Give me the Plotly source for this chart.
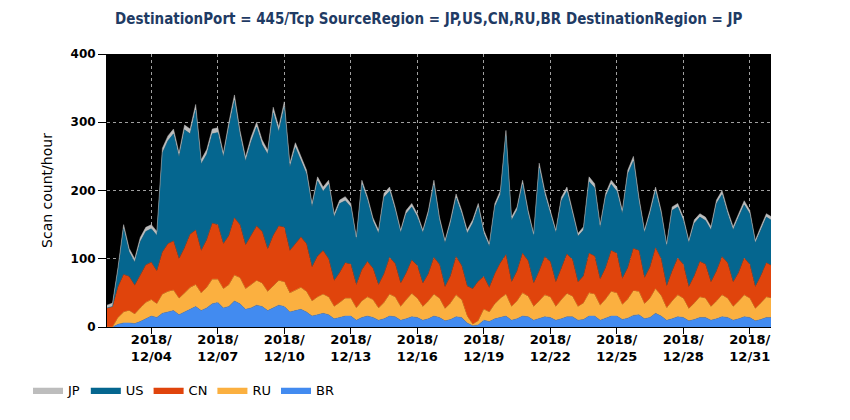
import pandas as pd
import plotly.graph_objects as go

# 6-hourly samples, 2018/12/02 00:00 -> 2019/01/01 00:00 (00, 06, 12, 18 each day)
START = "2018-12-02 00:00"

BR = [0, 0, 4, 6,   6, 5, 8, 12,   16, 14, 20, 22,   24, 18, 22, 26,   30, 24, 28, 34,
      36, 28, 30, 38,   34, 26, 28, 32,   30, 24, 28, 32,   30, 22, 24, 26,   22, 16, 18, 20,
      18, 12, 14, 16,   16, 10, 14, 16,   14, 10, 12, 16,   15, 10, 12, 15,   14, 10, 12, 16,
      14, 9, 11, 15,   14, 6, 2, 3,   10, 8, 12, 14,   16, 10, 12, 16,   15, 10, 12, 15,
      14, 10, 12, 15,   15, 10, 11, 16,   16, 10, 13, 16,   16, 11, 13, 17,   18, 12, 14, 20,
      16, 10, 12, 15,   14, 9, 11, 14,   14, 10, 12, 15,   14, 10, 12, 15,   14, 9, 11, 14,
      14]
RU = [0, 0, 10, 16,   18, 14, 20, 24,   24, 20, 28, 30,   30, 24, 28, 32,   32, 26, 30, 36,
      34, 28, 32, 38,   38, 30, 34, 36,   34, 28, 32, 36,   36, 28, 30, 32,   30, 22, 26, 28,
      26, 18, 22, 26,   26, 18, 24, 28,   26, 18, 24, 32,   29, 20, 28, 34,   28, 20, 26, 32,
      28, 18, 24, 32,   26, 10, 2, 6,   16, 14, 22, 28,   32, 20, 26, 34,   30, 20, 26, 32,
      30, 20, 28, 34,   30, 20, 24, 34,   32, 22, 28, 36,   34, 22, 28, 36,   34, 22, 28, 36,
      30, 18, 26, 32,   28, 18, 24, 30,   28, 20, 26, 32,   28, 20, 26, 32,   28, 18, 24, 30,
      28]
CN = [28, 30, 45, 55,   50, 42, 48, 55,   55, 48, 62, 70,   72, 58, 66, 78,   80, 62, 70, 82,
      80, 66, 72, 84,   78, 64, 72, 80,   76, 62, 74, 80,   80, 62, 68, 74,   70, 50, 60, 64,
      56, 38, 44, 52,   50, 34, 46, 52,   46, 34, 42, 54,   49, 34, 39, 49,   48, 34, 40, 54,
      50, 32, 40, 56,   50, 44, 52, 58,   48, 36, 44, 52,   58, 36, 44, 58,   52, 34, 44, 56,
      52, 36, 46, 58,   54, 36, 40, 58,   56, 38, 46, 60,   58, 38, 46, 62,   60, 38, 46, 60,
      54, 32, 44, 54,   50, 32, 40, 52,   50, 36, 44, 56,   52, 36, 42, 54,   50, 32, 40, 50,
      48]
US = [0, 0, 24, 67,   36, 34, 49, 49,   49, 52, 145, 151,   157, 149, 173, 147,   176, 127, 125, 131,
      135, 127, 159, 172,   131, 123, 137, 145,   127, 139, 180, 138,   176, 122, 141, 112,   102, 88, 110, 87,
      109, 93, 101, 91,   84, 66, 125, 90,   69, 75, 112, 97,   78, 74, 87, 78,   71, 74, 88, 106,
      64, 64, 77, 86,   76, 77, 96, 109,   63, 60, 98, 100,   174, 90, 89, 101,   69, 69, 151, 91,
      70, 72, 99, 92,   67, 67, 67, 105,   100, 75, 104, 97,   91, 95, 137, 128,   72, 66, 78, 83,
      66, 58, 89, 75,   64, 64, 77, 65,   64, 76, 99, 91,   72, 76, 81, 78,   74, 64, 67, 67,
      66]
JP = [4, 5, 5, 6,   5, 5, 6, 6,   6, 6, 7, 7,   7, 6, 7, 7,   8, 6, 7, 7,
      7, 6, 7, 8,   7, 6, 7, 7,   7, 6, 8, 7,   8, 6, 7, 6,   6, 5, 6, 6,
      6, 5, 5, 6,   5, 4, 6, 5,   5, 5, 6, 6,   5, 4, 5, 5,   5, 4, 5, 7,
      5, 4, 5, 6,   5, 5, 5, 5,   5, 4, 5, 6,   8, 5, 5, 6,   5, 4, 7, 6,
      5, 4, 5, 6,   5, 4, 5, 7,   6, 5, 5, 6,   6, 5, 6, 7,   6, 4, 5, 6,
      5, 4, 5, 5,   5, 4, 5, 5,   5, 5, 5, 6,   5, 5, 5, 6,   5, 4, 5, 5,
      5]

TICK_DAYS = ["2018-12-04", "2018-12-07", "2018-12-10", "2018-12-13", "2018-12-16",
             "2018-12-19", "2018-12-22", "2018-12-25", "2018-12-28", "2018-12-31"]
TICK_TEXT = ["2018/<br>12/04", "2018/<br>12/07", "2018/<br>12/10", "2018/<br>12/13",
             "2018/<br>12/16", "2018/<br>12/19", "2018/<br>12/22", "2018/<br>12/25",
             "2018/<br>12/28", "2018/<br>12/31"]

TITLE = "DestinationPort = 445/Tcp SourceRegion = JP,US,CN,RU,BR DestinationRegion = JP"

# bottom -> top; legend is shown reversed (JP first)
SERIES = [("BR", BR, "#428bf0"), ("RU", RU, "#fbb040"), ("CN", CN, "#e0440c"),
          ("US", US, "#05668f"), ("JP", JP, "#bdbdbd")]

x = pd.date_range(START, periods=len(BR), freq="6h")

fig = go.Figure()
for name, vals, col in SERIES:
    fig.add_trace(go.Scatter(x=x, y=vals, name=name, mode="lines", stackgroup="s",
                             line=dict(width=0.5, color=col), fillcolor=col))

FONT = "DejaVu Sans"
# page body has an 8px margin, so the figure margins are 8px smaller
fig.update_layout(
    width=850, height=420, paper_bgcolor="white", plot_bgcolor="black",
    margin=dict(l=99, r=87, t=46, b=101),
    font=dict(family=FONT, size=13, color="black"),
    title=dict(text="<b>" + TITLE + "</b>", x=0.495, xanchor="center", y=0.988,
               font=dict(family="DejaVu Sans Condensed", size=15, color="#1f3b64")),
    legend=dict(orientation="h", x=-0.119, xanchor="left", y=-0.176, yanchor="top",
                font=dict(size=13), itemwidth=30, traceorder="reversed"),
    showlegend=True,
)
fig.update_xaxes(type="date", range=["2018-12-02 00:00", "2018-12-31 23:00"],
                 tickvals=TICK_DAYS, ticktext=TICK_TEXT, ticks="outside", ticklen=6,
                 tickcolor="black", showline=True, linecolor="black",
                 showgrid=True, gridcolor="#a0a0a0", griddash="dot", gridwidth=1,
                 tickfont=dict(family=FONT, size=13, color="black", weight="bold"),
                 ticklabelstandoff=-6, zeroline=False)
fig.update_yaxes(range=[0, 400], dtick=100, ticks="outside", ticklen=8, tickcolor="black",
                 showline=True, linecolor="black",
                 showgrid=True, gridcolor="#a0a0a0", griddash="dot", gridwidth=1,
                 tickfont=dict(family=FONT, size=12, color="black", weight="bold"),
                 title=dict(text="Scan count/hour", font=dict(family=FONT, size=14), standoff=14),
                 zeroline=False)

fig.write_html("out.html")
